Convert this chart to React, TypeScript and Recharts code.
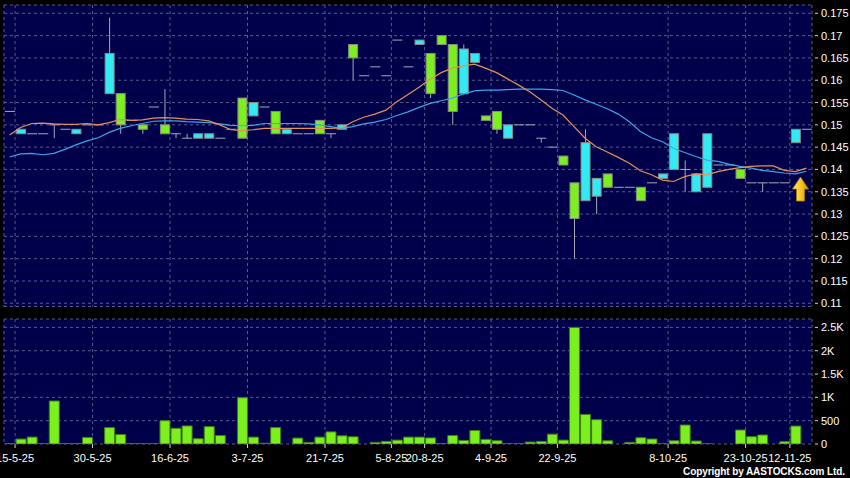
import React from 'react'
import { Bar, CartesianGrid, ComposedChart, Line, ReferenceDot, XAxis, YAxis } from 'recharts'

// daily candles, oldest first (last one is today's flat print)
const opens = [
  0.153, 0.148, 0.148, 0.148, 0.15, 0.149, 0.148, 0.15, 0.15, 0.157,
  0.157, 0.151, 0.15, 0.154, 0.15, 0.148, 0.147, 0.147, 0.147, 0.147,
  0.149, 0.156, 0.152, 0.154, 0.153, 0.148, 0.148, 0.148, 0.151, 0.148,
  0.149, 0.168, 0.161, 0.163, 0.161, 0.169, 0.163, 0.168, 0.166, 0.17,
  0.168, 0.157, 0.164, 0.152, 0.153, 0.147, 0.15, 0.15, 0.147, 0.145,
  0.143, 0.137, 0.133, 0.134, 0.139, 0.136, 0.136, 0.136, 0.137, 0.138,
  0.14, 0.14, 0.135, 0.136, 0.141, 0.141, 0.14, 0.137, 0.137, 0.137,
  0.137, 0.146, 0.149,
]
const highs = [
  0.153, 0.149, 0.148, 0.148, 0.15, 0.149, 0.149, 0.15, 0.15, 0.174,
  0.157, 0.151, 0.15, 0.154, 0.158, 0.148, 0.148, 0.148, 0.148, 0.147,
  0.149, 0.156, 0.155, 0.154, 0.153, 0.149, 0.148, 0.148, 0.151, 0.148,
  0.15, 0.168, 0.161, 0.163, 0.161, 0.169, 0.163, 0.169, 0.166, 0.17,
  0.168, 0.168, 0.166, 0.152, 0.153, 0.15, 0.15, 0.15, 0.147, 0.145,
  0.143, 0.137, 0.149, 0.138, 0.139, 0.136, 0.136, 0.136, 0.137, 0.139,
  0.148, 0.142, 0.139, 0.148, 0.141, 0.141, 0.14, 0.137, 0.137, 0.137,
  0.137, 0.149, 0.149,
]
const lows = [
  0.153, 0.148, 0.148, 0.148, 0.147, 0.149, 0.148, 0.15, 0.15, 0.157,
  0.148, 0.151, 0.148, 0.154, 0.148, 0.147, 0.147, 0.147, 0.147, 0.147,
  0.149, 0.147, 0.152, 0.154, 0.148, 0.148, 0.148, 0.148, 0.148, 0.147,
  0.149, 0.16, 0.161, 0.163, 0.161, 0.169, 0.163, 0.168, 0.156, 0.168,
  0.15, 0.157, 0.164, 0.151, 0.148, 0.147, 0.15, 0.15, 0.146, 0.145,
  0.141, 0.12, 0.133, 0.13, 0.136, 0.136, 0.136, 0.133, 0.137, 0.138,
  0.14, 0.135, 0.135, 0.136, 0.141, 0.141, 0.138, 0.137, 0.135, 0.137,
  0.137, 0.146, 0.149,
]
const closes = [
  0.153, 0.149, 0.148, 0.148, 0.15, 0.149, 0.149, 0.15, 0.15, 0.166,
  0.15, 0.151, 0.149, 0.154, 0.148, 0.148, 0.147, 0.148, 0.148, 0.147,
  0.149, 0.147, 0.155, 0.154, 0.148, 0.149, 0.148, 0.148, 0.148, 0.148,
  0.15, 0.165, 0.161, 0.163, 0.161, 0.169, 0.163, 0.169, 0.157, 0.168,
  0.153, 0.167, 0.166, 0.151, 0.149, 0.15, 0.15, 0.15, 0.147, 0.145,
  0.141, 0.129, 0.146, 0.138, 0.136, 0.136, 0.136, 0.133, 0.137, 0.139,
  0.148, 0.14, 0.139, 0.148, 0.141, 0.141, 0.138, 0.137, 0.137, 0.137,
  0.137, 0.149, 0.149,
]
const volumes = [
  5, 106, 148, 5, 922, 10, 10, 141, 0, 352,
  204, 10, 5, 5, 500, 338, 387, 113, 373, 183,
  0, 993, 148, 15, 352, 0, 127, 35, 148, 260,
  176, 155, 0, 35, 56, 84, 148, 148, 130, 8,
  183, 77, 289, 99, 70, 5, 5, 42, 56, 211,
  84, 2500, 634, 521, 70, 0, 36, 135, 107, 3,
  70, 407, 64, 3, 0, 0, 300, 157, 193, 0,
  50, 385, 0,
]
const ma10 = [
  0.1477, 0.1494, 0.1503, 0.1504, 0.1502, 0.1501, 0.1501, 0.1503, 0.15, 0.1505,
  0.1512, 0.151, 0.1511, 0.1515, 0.1516, 0.1515, 0.1513, 0.1512, 0.1509, 0.15,
  0.1489, 0.1487, 0.1489, 0.1492, 0.1492, 0.1492, 0.1492, 0.1492, 0.1492, 0.1492,
  0.1493, 0.1507, 0.1517, 0.1524, 0.1533, 0.1552, 0.1568, 0.1584, 0.1602, 0.1617,
  0.1627, 0.1632, 0.1636, 0.1627, 0.1617, 0.1603, 0.1589, 0.1574, 0.1556, 0.1537,
  0.1522, 0.1496, 0.147, 0.1451, 0.1439, 0.1427, 0.1414, 0.1397, 0.1388, 0.1376,
  0.1373, 0.1384, 0.139, 0.1388, 0.1395, 0.14, 0.1404, 0.1407, 0.1408, 0.1408,
  0.1398, 0.1395, 0.1403,
]
const ma20 = [
  0.1428, 0.1435, 0.1436, 0.1433, 0.1436, 0.1445, 0.1455, 0.1464, 0.1471, 0.1483,
  0.1492, 0.1498, 0.1503, 0.1508, 0.1509, 0.1509, 0.1507, 0.1506, 0.1505, 0.1502,
  0.1499, 0.1498, 0.1499, 0.1503, 0.1503, 0.1503, 0.1503, 0.1502, 0.15, 0.1496,
  0.1492, 0.1496, 0.1502, 0.1506, 0.1512, 0.1521, 0.1529, 0.1539, 0.1548, 0.1554,
  0.156, 0.1569, 0.1576, 0.1578, 0.1578, 0.1579, 0.158, 0.158, 0.158, 0.1579,
  0.1577, 0.1567, 0.1556, 0.1546, 0.1536, 0.1524, 0.1507, 0.1485, 0.1471, 0.1462,
  0.1447, 0.1438, 0.1429, 0.1421, 0.1418, 0.1412, 0.1407, 0.1403, 0.1398, 0.1395,
  0.1392, 0.139, 0.1396,
]

const dateTicks = [0.5, 7.5, 14.5, 21.5, 28.5, 34.5, 37.5, 43.5, 49.5, 59.5, 66.5, 70.5]
const dateLabels = [
  '15-5-25', '30-5-25', '16-6-25', '3-7-25', '21-7-25', '5-8-25',
  '20-8-25', '4-9-25', '22-9-25', '8-10-25', '23-10-25', '12-11-25',
]
const priceTicks = [
  0.11, 0.115, 0.12, 0.125, 0.13, 0.135, 0.14, 0.145, 0.15, 0.155, 0.16, 0.165, 0.17, 0.175,
]
const volumeTicks = [0, 500, 1000, 1500, 2000, 2500]

const P_MIN = 0.10928
const P_MAX = 0.17686
const X_DOMAIN: [number, number] = [-0.5, 72.5]
const arrowAt = { i: 71.46, price: 0.1356 }

const rows = opens.map((o, i) => ({
  i,
  o,
  h: highs[i],
  l: lows[i],
  c: closes[i],
  v: volumes[i],
  ma10: ma10[i],
  ma20: ma20[i],
}))

const FONT = 'Arial, "Liberation Sans", sans-serif'
const PANEL = '#00004a'
const GRID = '#5a5a90'

function Candle(props: any) {
  const { x, y, width, height, payload } = props
  const top = Math.min(y, y + height)
  const span = Math.abs(height)
  const cx = x + width / 2
  const py = (p: number) => top + ((P_MAX - p) / (P_MAX - P_MIN)) * span
  const { o, h, l, c } = payload
  const wick = h > l ? <line x1={cx} x2={cx} y1={py(h)} y2={py(l)} stroke="#a8a8b8" strokeWidth={1} /> : null
  if (o === c) {
    return (
      <g>
        {wick}
        <line x1={cx - 5} x2={cx + 5} y1={py(o)} y2={py(o)} stroke="#a8a8b8" strokeWidth={1} />
      </g>
    )
  }
  const up = c > o
  const y1 = py(Math.max(o, c))
  const y2 = py(Math.min(o, c))
  return (
    <g>
      {wick}
      <rect x={cx - 4.5} y={y1} width={9} height={y2 - y1} fill={up ? '#33eaf2' : '#7cf01e'} stroke="#8a8a8a" strokeWidth={1} />
    </g>
  )
}

function Arrow(props: any) {
  const { cx, cy } = props
  const pts = [
    [cx, cy - 12], [cx + 8, cy], [cx + 4, cy], [cx + 4, cy + 12],
    [cx - 4, cy + 12], [cx - 4, cy], [cx - 8, cy],
  ].map((p) => p.join(',')).join(' ')
  return (
    <g>
      <defs>
        <linearGradient id="arrowFill" x1="0" y1="0" x2="1" y2="0">
          <stop offset="0%" stopColor="#ffe680" />
          <stop offset="60%" stopColor="#f5c21a" />
          <stop offset="100%" stopColor="#c88a00" />
        </linearGradient>
      </defs>
      <polygon points={pts} fill="url(#arrowFill)" stroke="#b07800" strokeWidth={0.8} />
    </g>
  )
}

function RightTick(props: any) {
  const { x, y, payload, fmt } = props
  return (
    <g>
      <line x1={x + 3} x2={x + 6} y1={y} y2={y} stroke="#d0d0d0" />
      <text x={x + 9} y={y} dy={4} fill="#ffffff" fontSize={11} fontFamily={FONT}>
        {fmt(payload.value)}
      </text>
    </g>
  )
}

function DateTick(props: any) {
  const { x, y, payload } = props
  const k = dateTicks.indexOf(payload.value)
  return (
    <g>
      <line x1={x} x2={x} y1={y} y2={y + 4} stroke="#d0d0d0" />
      <text x={x} y={y + 18} textAnchor="middle" fill="#ffffff" fontSize={11} fontFamily={FONT}>
        {k >= 0 ? dateLabels[k] : ''}
      </text>
    </g>
  )
}

const fmtPrice = (v: number) => String(v)
const fmtVol = (v: number) => (v >= 1000 ? `${v / 1000}K` : String(v))

export default function App() {
  return (
    <div style={{ position: 'absolute', left: 0, top: 0, width: 850, height: 478, background: '#000', overflow: 'hidden' }}>
      <div style={{ position: 'absolute', left: 0, top: 0 }}>
        <ComposedChart width={850} height={310} data={rows} margin={{ top: 5, right: 0, bottom: 3.5, left: 4 }}>
          <CartesianGrid fill={PANEL} fillOpacity={1} stroke={GRID} strokeDasharray="3 3" />
          <XAxis dataKey="i" type="number" domain={X_DOMAIN} ticks={dateTicks} allowDataOverflow hide />
          <YAxis
            orientation="right"
            width={38}
            domain={[P_MIN, P_MAX]}
            ticks={priceTicks}
            interval={0}
            allowDataOverflow
            axisLine={false}
            tickLine={false}
            tickSize={0}
            tickMargin={0}
            tick={<RightTick fmt={fmtPrice} />}
          />
          <Bar dataKey={() => [P_MIN, P_MAX]} barSize={10} shape={<Candle />} isAnimationActive={false} />
          <Line dataKey="ma20" type="linear" stroke="#3aa6e6" strokeWidth={1.2} dot={false} isAnimationActive={false} />
          <Line dataKey="ma10" type="linear" stroke="#e4905a" strokeWidth={1.2} dot={false} isAnimationActive={false} />
          <ReferenceDot x={arrowAt.i} y={arrowAt.price} r={0} shape={<Arrow />} />
        </ComposedChart>
      </div>
      <div style={{ position: 'absolute', left: 0, top: 310 }}>
        <ComposedChart width={850} height={168} data={rows} margin={{ top: 9, right: 0, bottom: 4, left: 4 }}>
          <CartesianGrid fill={PANEL} fillOpacity={1} stroke={GRID} strokeDasharray="3 3" />
          <XAxis
            dataKey="i"
            type="number"
            domain={X_DOMAIN}
            ticks={dateTicks}
            allowDataOverflow
            height={30}
            axisLine={false}
            tickLine={false}
            tickSize={0}
            tickMargin={0}
            tick={<DateTick />}
            interval={0}
          />
          <YAxis
            orientation="right"
            width={38}
            domain={[0, 2680]}
            ticks={volumeTicks}
            interval={0}
            allowDataOverflow
            axisLine={false}
            tickLine={false}
            tickSize={0}
            tickMargin={0}
            tick={<RightTick fmt={fmtVol} />}
          />
          <Bar dataKey="v" barSize={10} fill="#7cf01e" stroke="#3f7d10" strokeWidth={1} isAnimationActive={false} />
        </ComposedChart>
      </div>
      <svg width={850} height={478} style={{ position: 'absolute', left: 0, top: 0, pointerEvents: 'none' }}>
        <text x={683} y={475} fill="#ffffff" fontSize={10} fontWeight="bold" fontFamily={FONT} textLength={162} lengthAdjust="spacing">
          Copyright by AASTOCKS.com Ltd.
        </text>
      </svg>
    </div>
  )
}
